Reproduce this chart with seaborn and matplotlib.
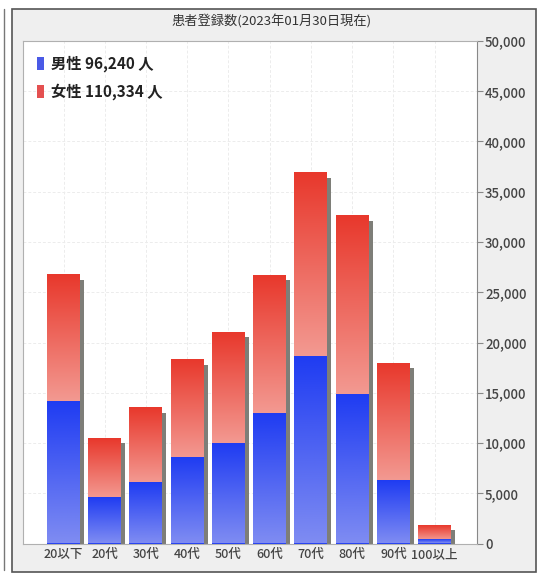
import numpy as np
import pandas as pd
import matplotlib
matplotlib.use("Agg")
import matplotlib.pyplot as plt
import seaborn as sns
import matplotlib.transforms as mtransforms
from matplotlib.colors import LinearSegmentedColormap
from matplotlib.patches import Rectangle, Patch
from matplotlib.lines import Line2D
from matplotlib.ticker import FuncFormatter, FixedLocator

# ---- data ----
categories = ["20以下", "20代", "30代", "40代", "50代", "60代", "70代", "80代", "90代", "100以上"]
male = [14040, 4540, 6030, 8520, 9950, 12910, 18515, 14790, 6230, 360]
female = [12700, 5940, 7470, 9760, 11110, 13800, 18320, 17820, 11720, 1460]
legend_labels = ["男性 96,240 人", "女性 110,334 人"]
title = "患者登録数(2023年01月30日現在)"
y_ticks = [0, 5000, 10000, 15000, 20000, 25000, 30000, 35000, 40000, 45000, 50000]

sns.set_theme(style="white")
plt.rcParams['font.family'] = ['Noto Sans CJK JP', 'DejaVu Sans']

df = pd.DataFrame({"cat": categories, "male": male, "female": female})
df["total"] = df["male"] + df["female"]

W, H = 539, 577
fig = plt.figure(figsize=(W / 100, H / 100), dpi=100)
fig.patch.set_facecolor("white")

# outer panel frame (drawn first, behind axes)
fig.add_artist(Rectangle((12 / W, 1 - 572 / H), (536 - 12) / W, (572 - 9) / H,
                         transform=fig.transFigure, facecolor="#efefef", edgecolor="#555555",
                         linewidth=1.2, zorder=0))
fig.add_artist(Line2D([3.5 / W, 3.5 / W], [1 - 570 / H, 1 - 9 / H], transform=fig.transFigure,
                      color="#777777", linewidth=1.0, zorder=0))

ax = fig.add_axes([22.7 / W, (H - 543.5) / H, (476.7 - 22.7) / W, (543.5 - 41) / H], zorder=1)
ax.set_facecolor("white")

# shadow bars
sns.barplot(data=df, x="cat", y="total", color="#7e7e78", width=0.8, saturation=1,
            errorbar=None, ax=ax, zorder=1)
off = mtransforms.ScaledTranslation(4 / 100, -5 / 100, fig.dpi_scale_trans)
for p in ax.patches:
    p.set_transform(ax.transData + off)
    p.set_edgecolor("none")
n0 = len(ax.patches)

# female (stack top) bars
sns.barplot(data=df, x="cat", y="total", color="#e8392f", width=0.8, saturation=1,
            errorbar=None, ax=ax, zorder=2)
red_patches = ax.patches[n0:]
n1 = len(ax.patches)
# male bars
sns.barplot(data=df, x="cat", y="male", color="#2a45f0", width=0.8, saturation=1,
            errorbar=None, ax=ax, zorder=3)
blue_patches = ax.patches[n1:]

red_cmap = LinearSegmentedColormap.from_list("r", ["#f39a92", "#e8382c"])
blue_cmap = LinearSegmentedColormap.from_list("b", ["#7f8cf2", "#1f3cf2"])
grad = np.linspace(0, 1, 256).reshape(-1, 1)

for rp, bp in zip(red_patches, blue_patches):
    for p in (rp, bp):
        p.set_edgecolor("none")
    x0, w = rp.get_x(), rp.get_width()
    ytop = rp.get_y() + rp.get_height()
    ymid = bp.get_y() + bp.get_height()
    ax.imshow(grad, cmap=red_cmap, extent=(x0, x0 + w, ymid, ytop), origin="lower",
              aspect="auto", zorder=2.1, interpolation="bilinear")
    ax.imshow(grad, cmap=blue_cmap, extent=(x0, x0 + w, 0, ymid), origin="lower",
              aspect="auto", zorder=3.1, interpolation="bilinear")

ax.set_xlim(-0.99, 10.02)
ax.set_ylim(0, 50000)

# axes styling
ax.yaxis.tick_right()
ax.yaxis.set_major_locator(FixedLocator(y_ticks))
ax.yaxis.set_major_formatter(FuncFormatter(lambda v, pos: f"{int(v):,}"))
ax.tick_params(axis="y", which="major", direction="out", length=4, width=0.8,
               color="#888888", labelsize=9.5, labelcolor="#444444", pad=2, right=True, left=False)
ax.tick_params(axis="x", which="major", direction="out", length=0, labelsize=9,
               labelcolor="#444444", pad=3, bottom=True)
for lab in ax.get_yticklabels() + ax.get_xticklabels():
    lab.set_fontweight("medium")
ax.set_xlabel("")
ax.set_ylabel("")
for s in ax.spines.values():
    s.set_color("#b0b0b0")
    s.set_linewidth(0.8)
ax.spines["right"].set_color("#888888")

ax.set_axisbelow(True)
ax.grid(True, color="#ececec", linewidth=0.7, linestyle=(0, (3, 2)))

# legend
handles = [Patch(facecolor="#4a5ae6", edgecolor="none"),
           Patch(facecolor="#e45050", edgecolor="none")]
leg = ax.legend(handles, legend_labels, loc="upper left", bbox_to_anchor=(0.0, 1.0),
                frameon=False, handlelength=0.45, handleheight=1.0, handletextpad=0.45,
                labelspacing=0.75, borderaxespad=0.55,
                prop={"size": 11, "weight": "bold", "family": ['Noto Sans CJK JP', 'DejaVu Sans']})
for t in leg.get_texts():
    t.set_color("#222222")

# title
fig.text(272 / W, 1 - 22 / H, title, ha="center", va="center", fontsize=9.5, color="#333333")

fig.savefig("out.png", dpi=100)
